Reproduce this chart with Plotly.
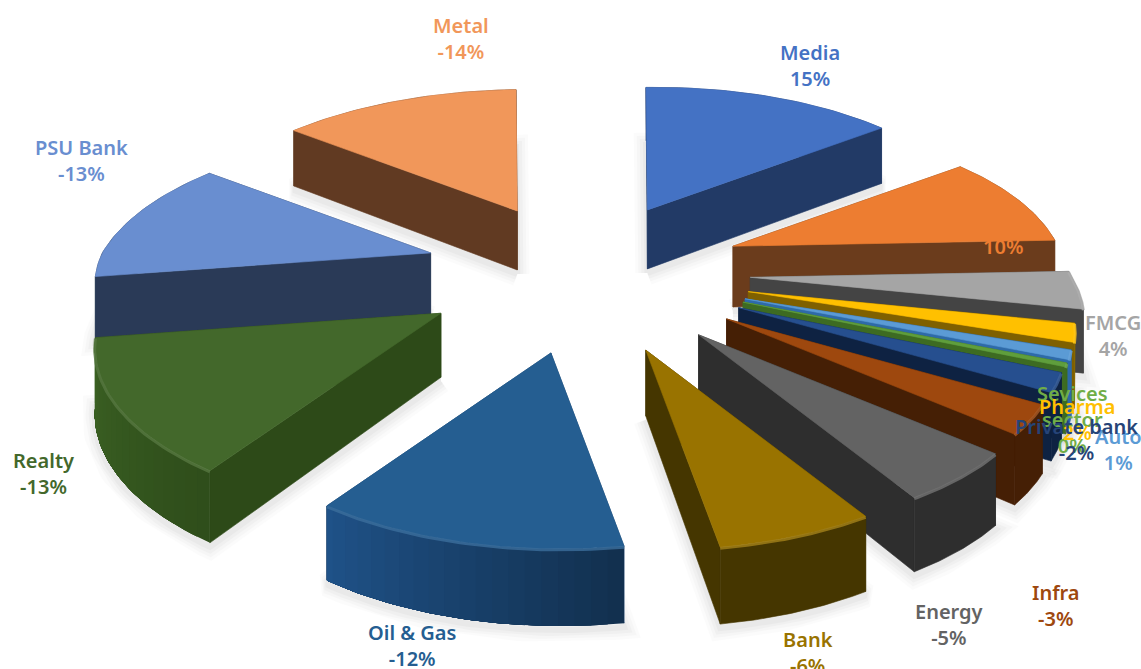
import numpy as np
import plotly.graph_objects as go

# ---- data ----
names = ["Media", "", "FMCG", "Pharma", "Auto", "Sevices<br>sector", "Private bank", "Infra",
         "Energy", "Bank", "Oil & Gas", "Realty", "PSU Bank", "Metal"]
values = [15, 10, 4, 2, 1, 0.4, -2, -3, -5, -6, -12, -13, -13, -14]

# ---- styles ----
top_colors = ["#4472c4", "#ed7d31", "#a5a5a5", "#ffc000", "#5b9bd5", "#5f9e3c", "#264f8f", "#9e480e",
              "#636363", "#997300", "#255e91", "#43682b", "#698ed0", "#f1975a"]
cut_colors = ["#223a66", "#6b3c1c", "#444444", "#7f6000", "#2e6aa8", "#3d6b22", "#0e2242", "#451f05",
              "#2e2e2e", "#453600", "#17406b", "#2d4a18", "#2a3a57", "#613a22"]
arc_start = ["#223a66", "#6b3c1c", "#505050", "#8a6a00", "#2e6aa8", "#3d6b22", "#0e2242", "#451f05",
             "#2e2e2e", "#453600", "#12304f", "#2f4e1b", "#2a3a57", "#613a22"]
arc_end = ["#223a66", "#6b3c1c", "#505050", "#8a6a00", "#2e6aa8", "#3d6b22", "#0e2242", "#451f05",
           "#2e2e2e", "#453600", "#1f5288", "#3c6324", "#2a3a57", "#613a22"]
text_colors = ["#4472c4", "#ed7d31", "#a5a5a5", "#ffc000", "#5b9bd5", "#70ad47", "#264478", "#9e480e",
               "#636363", "#997300", "#255e91", "#43682b", "#698ed0", "#f1975a"]
label_xy = [(810, 65), (1003, 246), (1113, 335), (1077, 419), (1118, 449), (1072, 419), (1076, 439), (1056, 605),
            (949, 624), (808, 652), (412, 645), (43, 473), (81, 160), (461, 38)]
radius_scale = [1.0, 0.97, 0.96, 0.94, 0.94, 0.94, 0.94, 0.95, 0.98, 1.0, 0.98, 1.01, 0.98, 0.99]

CX, CY = 585, 271
RX, RY, K = 335, 152, 0.24
PULL = 0.49
H0 = 62
ROT = -2.0
SHEAR_FRONT = 10
SHEAR_BACK = 8
SHEAR_PULL = 8

def scale(z):
    return 1 / (1 - K * z)

def hex_mix(a, b, t):
    ca = [int(a[j:j + 2], 16) for j in (1, 3, 5)]
    cb = [int(b[j:j + 2], 16) for j in (1, 3, 5)]
    return "#" + "".join(f"{round(p + (q - p) * t):02x}" for p, q in zip(ca, cb))

def wedge(a0, a1, rs):
    mid = np.radians((a0 + a1) / 2)
    zp = -PULL * np.cos(mid)
    sp = scale(zp)
    left = np.sin(mid) < 0
    ax = CX + RX * PULL * np.sin(mid) * sp + (SHEAR_PULL * max(zp / PULL, 0) if left else 0)
    ay = CY + RY * zp * sp
    th = np.radians(np.linspace(a0, a1, 40))
    z = -np.cos(th)
    s = scale(z)
    x = ax + RX * rs * np.sin(th) * s + SHEAR_FRONT * np.maximum(z, 0) + SHEAR_BACK * np.maximum(-z, 0)
    y = ay + RY * rs * z * s
    ha = H0 * sp ** 0.5
    h = H0 * scale(z + zp) ** 0.5
    return ax, ay, ha, x, y, h

fig = go.Figure()

def poly(xs, ys, color, lw=0.6):
    fig.add_trace(go.Scatter(x=list(xs) + [xs[0]], y=list(ys) + [ys[0]], mode="lines", fill="toself",
                             fillcolor=color, line=dict(color=color, width=lw), hoverinfo="skip",
                             showlegend=False))

weights = np.abs(values, dtype=float)
angles = np.concatenate([[0], np.cumsum(weights) / weights.sum() * 360]) + ROT
wedges = [wedge(angles[i], angles[i + 1], radius_scale[i]) for i in range(len(values))]

# soft ground shadow
for w_px, op in ((24, 0.012), (18, 0.015), (12, 0.02), (6, 0.025)):
    for ax, ay, ha, x, y, h in wedges:
        xs = np.concatenate([[ax], x, [ax]])
        ys = np.concatenate([[ay + ha + 4], y + h + 4, [ay + ha + 4]])
        fig.add_trace(go.Scatter(x=xs, y=ys, mode="lines", line=dict(color="#000000", width=w_px),
                                 opacity=op, hoverinfo="skip", showlegend=False))

# painter order: back slices first
order = sorted(range(len(values)), key=lambda i: wedges[i][1] + 0.25 * wedges[i][4].mean())
for i in order:
    ax, ay, ha, x, y, h = wedges[i]
    faces = [
        ("cut", [ax, x[0], x[0], ax], [ay, y[0], y[0] + h[0], ay + ha], ay + y[0]),
        ("cut", [ax, x[-1], x[-1], ax], [ay, y[-1], y[-1] + h[-1], ay + ha], ay + y[-1]),
        ("arc", None, None, 2 * y.mean()),
    ]
    for kind, fx, fy, _ in sorted(faces, key=lambda f: f[3]):
        if kind == "cut":
            poly(fx, fy, cut_colors[i])
        elif arc_start[i] == arc_end[i]:
            poly(np.concatenate([x, x[::-1]]), np.concatenate([y, (y + h)[::-1]]), arc_start[i])
        else:
            n = len(x)
            for j in range(0, n - 1, 2):
                poly(np.concatenate([x[j:], x[j:][::-1]]),
                     np.concatenate([y[j:], (y + h)[j:][::-1]]),
                     hex_mix(arc_start[i], arc_end[i], j / (n - 2)), lw=0)
    poly(np.concatenate([[ax], x]), np.concatenate([[ay], y]), top_colors[i])
    # bevel along the rim of the front slices
    if y.mean() > ay:
        fig.add_trace(go.Scatter(x=x, y=y + 1, mode="lines", opacity=0.8,
                                 line=dict(color=hex_mix(top_colors[i], "#ffffff", 0.1), width=3),
                                 hoverinfo="skip", showlegend=False))

# labels: drawn in chart order so later ones overlap earlier ones
draw_order = [0, 1, 2, 7, 8, 9, 10, 11, 12, 13, 5, 3, 4, 6]
for i in draw_order:
    pct = f"{values[i]:.0f}%"
    text = f"{names[i]}<br>{pct}" if names[i] else pct
    fig.add_annotation(x=label_xy[i][0], y=label_xy[i][1], text=text, showarrow=False,
                       xanchor="center", yanchor="middle", align="center",
                       font=dict(family="Noto Sans", size=20, weight=600, color=text_colors[i]))

fig.update_layout(width=1141, height=669, margin=dict(l=0, r=0, t=0, b=0),
                  paper_bgcolor="white", plot_bgcolor="white", showlegend=False,
                  xaxis=dict(range=[0, 1141], visible=False, fixedrange=True),
                  yaxis=dict(range=[669, 0], visible=False, fixedrange=True))
fig.write_html("out.html", config={"displayModeBar": False},
               post_script="document.body.style.margin='0';document.body.style.overflow='hidden';")
